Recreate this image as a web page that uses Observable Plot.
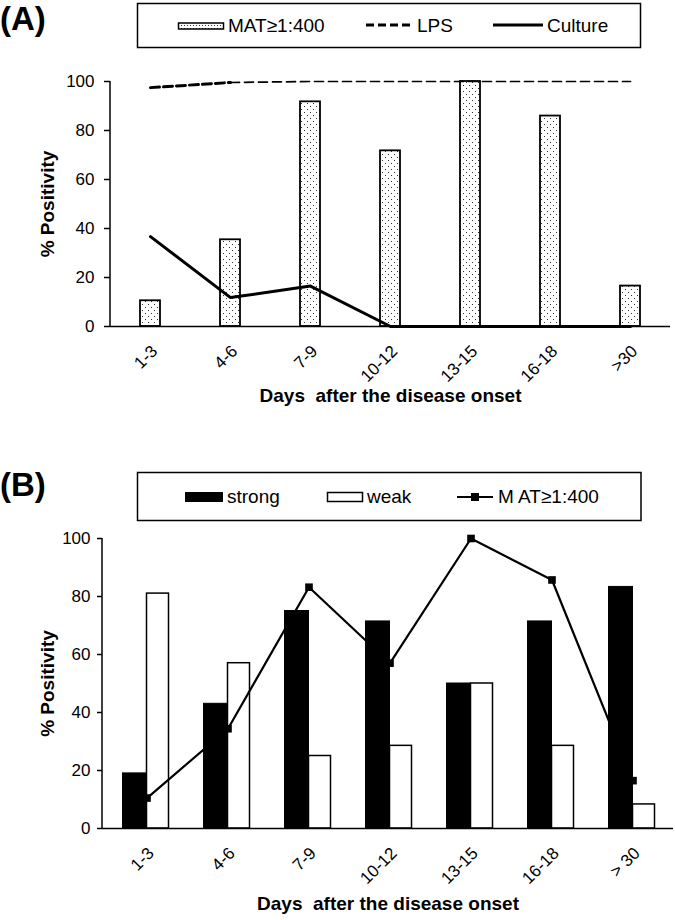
<!DOCTYPE html>
<html><head><meta charset="utf-8">
<script src="https://cdn.jsdelivr.net/npm/d3@7"></script>
<script src="https://cdn.jsdelivr.net/npm/@observablehq/plot@0.6"></script>
<style>
body{margin:0;background:#fff;}
#page{position:relative;width:675px;height:920px;font-family:"Liberation Sans",Arial,sans-serif;}
#page > svg{position:absolute;left:0;}
</style></head><body><div id="page"></div>
<script>
// ---- data ----
const daysA = ["1-3","4-6","7-9","10-12","13-15","16-18",">30"];
const matA = [10.5,35.4,91.7,71.7,100,85.9,16.5];
const lpsA = [97.5,99.6,100,100,100,100,100];
const cultureA = [36.7,11.8,16.5,0,0,0,0];

const daysB = ["1-3","4-6","7-9","10-12","13-15","16-18","> 30"];
const strongB = [19,43,75,71.4,50,71.4,83.3];
const weakB = [81,57,25,28.5,50,28.5,8.3];
const matB = [10.5,34.4,83.2,57,100,85.7,16.5];

const yTicks = [0,20,40,60,80,100];
const xLabel = "Days\u00a0 after the disease onset";
const yLabel = "% Positivity";
const legendA = ["MAT≥1:400","LPS","Culture"];
const legendB = ["strong","weak","M AT≥1:400"];
const panelLabels = ["(A)","(B)"];

const FONT = '"Liberation Sans", Arial, sans-serif';
const page = document.getElementById("page");

const tableA = daysA.map((d,i)=>({day:d, mat:matA[i], lps:lpsA[i], culture:cultureA[i]}));
const tableB = daysB.map((d,i)=>({day:d, strong:strongB[i], weak:weakB[i], mat:matB[i]}));

function dotsDefs(id){
  return () => {
    const g = d3.create("svg:defs");
    const p = g.append("pattern").attr("id",id).attr("patternUnits","userSpaceOnUse").attr("width",6).attr("height",6);
    p.append("rect").attr("width",6).attr("height",6).attr("fill","#fff");
    p.append("rect").attr("x",1).attr("y",1).attr("width",1).attr("height",1).attr("fill","#333");
    p.append("rect").attr("x",4).attr("y",4).attr("width",1).attr("height",1).attr("fill","#333");
    return g.node();
  };
}
function yAxisLine(w){
  return (index, {y}, values, {marginLeft}) =>
    d3.create("svg:line").attr("x1",marginLeft).attr("x2",marginLeft)
      .attr("y1",y(0)).attr("y2",y(100)).attr("stroke","#000").attr("stroke-width",w).node();
}

const style = {fontFamily:FONT, fontSize:"17px", color:"#000", background:"transparent", overflow:"visible"};

const plotA = Plot.plot({
  width:675, height:360, marginTop:21, marginBottom:94, marginLeft:110, marginRight:5,
  style,
  x:{domain:daysA, padding:0, axis:null},
  y:{domain:[0,100], axis:null},
  marks:[
    dotsDefs("dotsA"),
    Plot.barY(tableA,{x:"day", y:"mat", fill:"url(#dotsA)", stroke:"#000", strokeWidth:1.8, insetLeft:30, insetRight:30}),
    Plot.ruleY([0],{stroke:"#000", strokeWidth:1.5}),
    Plot.line(tableA.slice(0,2),{x:"day", y:"lps", stroke:"#000", strokeWidth:3, strokeDasharray:"9,4"}),
    Plot.line(tableA.slice(1),{x:"day", y:"lps", stroke:"#000", strokeWidth:1.7, strokeDasharray:"9,5"}),
    Plot.line(tableA,{x:"day", y:"culture", stroke:"#000", strokeWidth:3}),
    Plot.axisX({tickSize:0, tickPadding:22, tickRotate:-45, fontSize:17, dx:4, label:null}),
    Plot.axisY({ticks:yTicks, tickSize:6, tickPadding:10, fontSize:17, label:null, strokeWidth:1.5}),
    yAxisLine(1.5),
    Plot.text([xLabel],{text:d=>d, frameAnchor:"bottom", lineAnchor:"middle", textAnchor:"middle", dy:69, fontSize:19, fontWeight:"bold"}),
    Plot.text([yLabel],{text:d=>d, frameAnchor:"left", textAnchor:"middle", lineAnchor:"middle", rotate:-90, dx:-63, fontSize:19, fontWeight:"bold"})
  ]
});
plotA.style.top = "60px";
page.appendChild(plotA);

const plotB = Plot.plot({
  width:675, height:390, marginTop:8, marginBottom:92, marginLeft:102, marginRight:2,
  style,
  x:{domain:daysB, padding:0, axis:null, insetLeft:3},
  y:{domain:[0,100], axis:null},
  marks:[
    Plot.barY(tableB,{x:"day", y:"strong", fill:"#000", stroke:"#000", strokeWidth:1, insetLeft:16.5, insetRight:40.5}),
    Plot.barY(tableB,{x:"day", y:"weak", fill:"#fff", stroke:"#000", strokeWidth:1.5, insetLeft:40.5, insetRight:18.5}),
    Plot.line(tableB,{x:"day", y:"mat", stroke:"#000", strokeWidth:2.2}),
    Plot.dot(tableB,{x:"day", y:"mat", symbol:"square", r:4.3, fill:"#000", stroke:null}),
    Plot.ruleY([0],{stroke:"#000", strokeWidth:1.5}),
    Plot.axisX({tickSize:0, tickPadding:22, tickRotate:-45, fontSize:17, dx:4, label:null}),
    Plot.axisY({ticks:yTicks, tickSize:5, tickPadding:7, fontSize:17, label:null, strokeWidth:1.5}),
    yAxisLine(1.5),
    Plot.text([xLabel],{text:d=>d, frameAnchor:"bottom", lineAnchor:"middle", textAnchor:"middle", dy:75, fontSize:19, fontWeight:"bold"}),
    Plot.text([yLabel],{text:d=>d, frameAnchor:"left", textAnchor:"middle", lineAnchor:"middle", rotate:-90, dx:-55, fontSize:19, fontWeight:"bold"})
  ]
});
plotB.style.top = "530px";
page.appendChild(plotB);

// ---- legends & panel letters (overlay) ----
const ov = d3.create("svg").attr("width",675).attr("height",920)
  .style("top","0px").style("pointer-events","none").style("font-family",FONT);
const pat = ov.append("defs").append("pattern").attr("id","dotsL").attr("patternUnits","userSpaceOnUse").attr("width",6).attr("height",3);
pat.append("rect").attr("width",6).attr("height",3).attr("fill","#fff");
pat.append("rect").attr("x",1).attr("y",1).attr("width",1).attr("height",1).attr("fill","#333");
pat.append("rect").attr("x",4).attr("y",1).attr("width",1).attr("height",1).attr("fill","#333");

ov.append("text").attr("x",0).attr("y",30).attr("font-size",33).attr("font-weight","bold").text(panelLabels[0]);
ov.append("text").attr("x",0).attr("y",496).attr("font-size",33).attr("font-weight","bold").text(panelLabels[1]);

// legend A
ov.append("rect").attr("x",137.5).attr("y",3.5).attr("width",503).attr("height",44).attr("fill","none").attr("stroke","#000").attr("stroke-width",1.5);
ov.append("rect").attr("x",178.5).attr("y",23).attr("width",45).attr("height",6).attr("fill","url(#dotsL)").attr("stroke","#000").attr("stroke-width",1.5);
ov.append("text").attr("x",228).attr("y",32).attr("font-size",19).text(legendA[0]);
ov.append("line").attr("x1",366).attr("x2",413).attr("y1",25).attr("y2",25).attr("stroke","#000").attr("stroke-width",3).attr("stroke-dasharray","8,4");
ov.append("text").attr("x",417).attr("y",32).attr("font-size",19).text(legendA[1]);
ov.append("line").attr("x1",493).attr("x2",543).attr("y1",25).attr("y2",25).attr("stroke","#000").attr("stroke-width",3);
ov.append("text").attr("x",547).attr("y",32).attr("font-size",19).text(legendA[2]);

// legend B
ov.append("rect").attr("x",137.5).attr("y",472.5).attr("width",503.5).attr("height",48).attr("fill","none").attr("stroke","#000").attr("stroke-width",1.5);
ov.append("rect").attr("x",185).attr("y",492).attr("width",38).attr("height",10).attr("fill","#000");
ov.append("text").attr("x",227).attr("y",503).attr("font-size",19).text(legendB[0]);
ov.append("rect").attr("x",327.5).attr("y",492.5).attr("width",35).attr("height",9).attr("fill","#fff").attr("stroke","#000").attr("stroke-width",1.5);
ov.append("text").attr("x",367).attr("y",503).attr("font-size",19).text(legendB[1]);
ov.append("line").attr("x1",457).attr("x2",493).attr("y1",497).attr("y2",497).attr("stroke","#000").attr("stroke-width",2);
ov.append("rect").attr("x",471).attr("y",493).attr("width",8).attr("height",8).attr("fill","#000");
ov.append("text").attr("x",498).attr("y",503).attr("font-size",19).text(legendB[2]);

page.appendChild(ov.node());
</script></body></html>
